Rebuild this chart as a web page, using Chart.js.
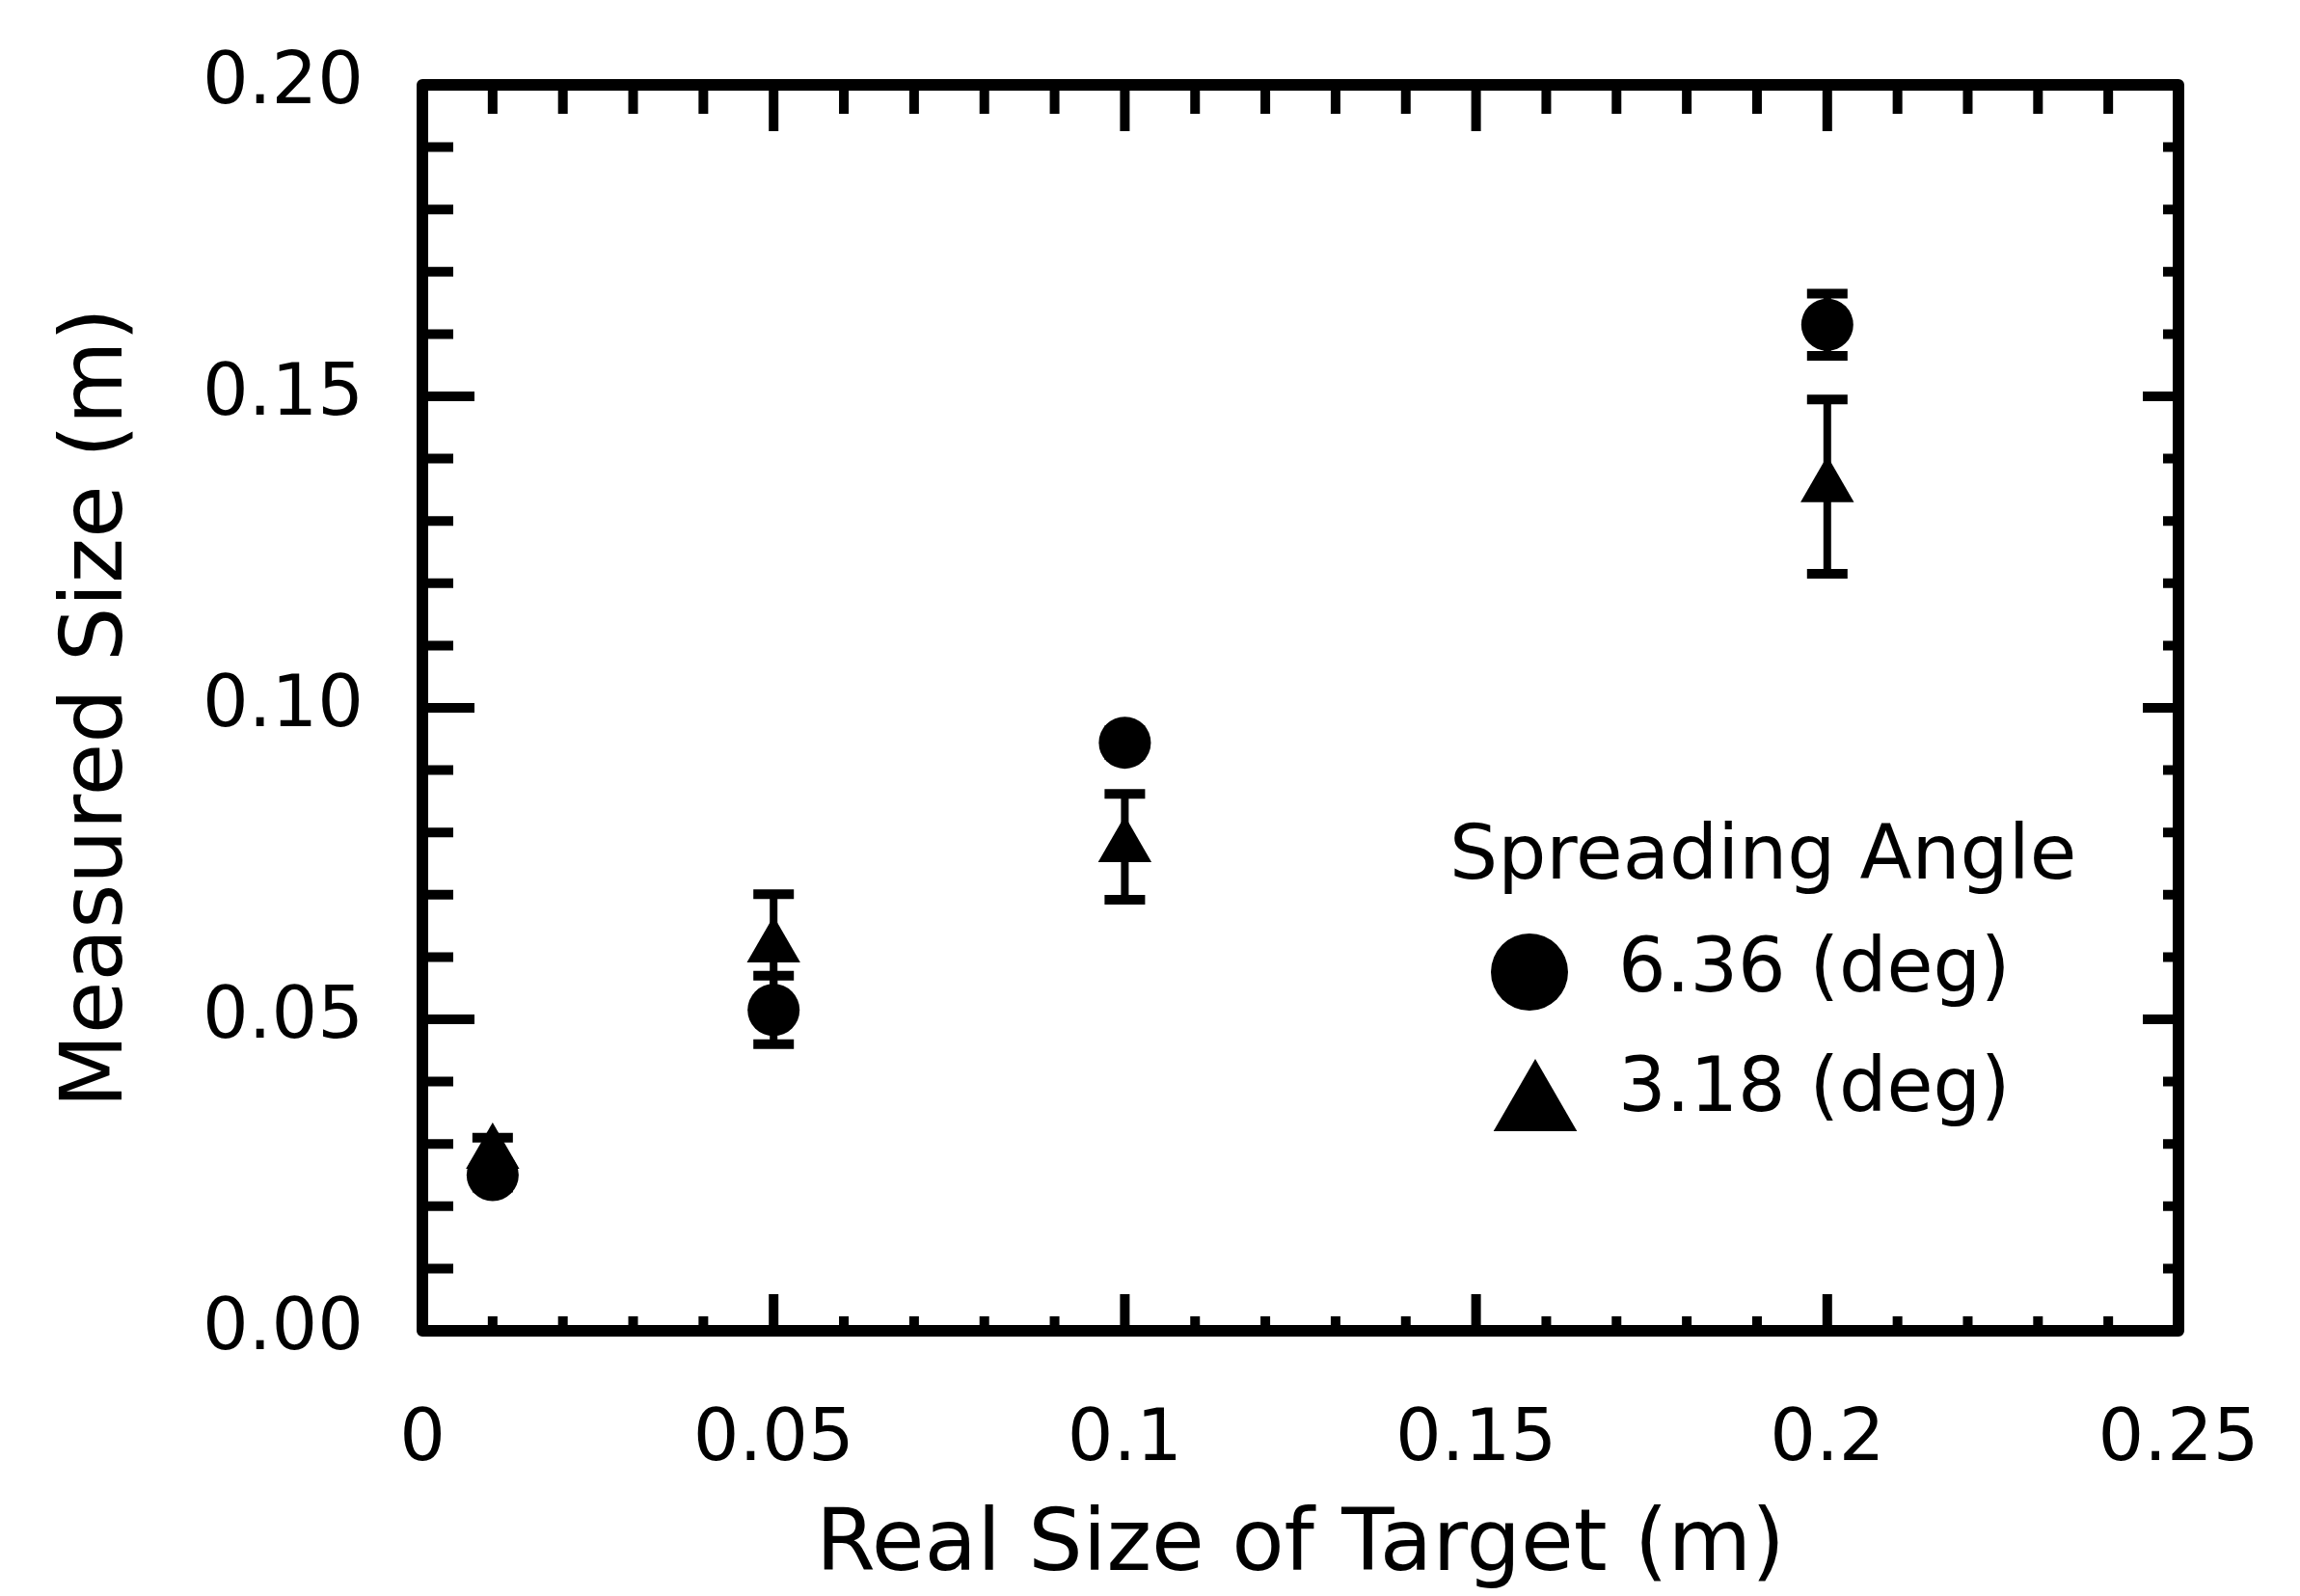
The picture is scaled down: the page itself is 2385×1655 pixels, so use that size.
<!DOCTYPE html>
<html><head><meta charset="utf-8">
<script src="https://cdn.jsdelivr.net/npm/chart.js@4.4.1/dist/chart.umd.min.js"></script>
<style>html,body{margin:0;padding:0;background:#fff;} canvas{display:block;}</style>
</head><body>
<canvas id="c" width="2385" height="1655"></canvas>
<script>
// ---- data ----
const targetSizes = [0.01, 0.05, 0.1, 0.2];
const measured636 = [0.025, 0.0515, 0.0944, 0.1615];
const err636 = [0.002, 0.0055, 0.002, 0.005];
const measured318 = [0.0285, 0.0616, 0.0777, 0.1355];
const err318 = [0.0025, 0.0085, 0.0085, 0.014];
const seriesLabels = ['6.36 (deg)', '3.18 (deg)'];
const legendTitle = 'Spreading Angle';
const xTickValues = [0, 0.05, 0.1, 0.15, 0.2, 0.25];
const xTickLabels = ['0', '0.05', '0.1', '0.15', '0.2', '0.25'];
const yTickValues = [0, 0.05, 0.1, 0.15, 0.2];
const yTickLabels = ['0.00', '0.05', '0.10', '0.15', '0.20'];
const xTitle = 'Real Size of Target (m)';
const yTitle = 'Measured Size (m)';
const minorStep = 0.01;

const FONT = '"DejaVu Sans", sans-serif';

const errorBars = {
  id: 'errorBars',
  beforeDatasetsDraw(chart) {
    const ctx = chart.ctx, xs = chart.scales.x, ys = chart.scales.y;
    ctx.save();
    ctx.strokeStyle = '#000';
    chart.data.datasets.forEach(ds => {
      ds.data.forEach((p, i) => {
        const e = ds.errors[i];
        if (!e) return;
        const px = xs.getPixelForValue(p.x);
        const y1 = ys.getPixelForValue(p.y + e), y2 = ys.getPixelForValue(p.y - e);
        ctx.lineWidth = 8;
        ctx.beginPath(); ctx.moveTo(px, y1); ctx.lineTo(px, y2); ctx.stroke();
        ctx.lineWidth = 10;
        ctx.beginPath();
        ctx.moveTo(px - 21, y1); ctx.lineTo(px + 21, y1);
        ctx.moveTo(px - 21, y2); ctx.lineTo(px + 21, y2);
        ctx.stroke();
      });
    });
    ctx.restore();
  }
};

const frameTicks = {
  id: 'frameTicks',
  afterDraw(chart) {
    const ctx = chart.ctx, ca = chart.chartArea, xs = chart.scales.x, ys = chart.scales.y;
    ctx.save();
    ctx.strokeStyle = '#000';
    ctx.lineWidth = 10;
    ctx.beginPath();
    const nx = Math.round((xs.max - xs.min) / minorStep);
    for (let k = 1; k < nx; k++) {
      const px = xs.getPixelForValue(xs.min + k * minorStep);
      const major = k % 5 === 0;
      ctx.moveTo(px, ca.top); ctx.lineTo(px, ca.top + (major ? 48 : 30));
      ctx.moveTo(px, ca.bottom); ctx.lineTo(px, ca.bottom - (major ? 38 : 15));
    }
    const ny = Math.round((ys.max - ys.min) / minorStep);
    for (let k = 1; k < ny; k++) {
      const py = ys.getPixelForValue(ys.min + k * minorStep);
      const major = k % 5 === 0;
      ctx.moveTo(ca.left, py); ctx.lineTo(ca.left + (major ? 54 : 32), py);
      ctx.moveTo(ca.right, py); ctx.lineTo(ca.right - (major ? 37 : 16), py);
    }
    ctx.stroke();
    ctx.lineWidth = 12;
    ctx.lineJoin = 'round';
    ctx.strokeRect(ca.left, ca.top, ca.right - ca.left, ca.bottom - ca.top);
    ctx.restore();
  }
};

const insetLegend = {
  id: 'insetLegend',
  afterDraw(chart) {
    const ctx = chart.ctx;
    ctx.save();
    ctx.fillStyle = '#000';
    ctx.font = '79px ' + FONT;
    ctx.textAlign = 'left';
    ctx.textBaseline = 'middle';
    ctx.fillText(legendTitle, 1503, 890);
    ctx.font = '78px ' + FONT;
    const rows = [
      {y: 1008, mx: 1586, my: 1008, r: 40},
      {y: 1132, mx: 1592, my: 1148, r: 50}
    ];
    chart.data.datasets.forEach((ds, i) => {
      const row = rows[i];
      Chart.helpers.drawPoint(ctx, {pointStyle: ds.pointStyle, radius: row.r, borderWidth: 0, rotation: 0}, row.mx, row.my);
      ctx.fillText(ds.label, 1678, row.y);
    });
    ctx.restore();
  }
};

const noOverhang = s => { s.paddingLeft = 0; s.paddingRight = 0; s.paddingTop = 0; s.paddingBottom = 0; };

new Chart(document.getElementById('c'), {
  type: 'scatter',
  data: {
    datasets: [
      {
        label: seriesLabels[0],
        data: targetSizes.map((x, i) => ({x, y: measured636[i]})),
        errors: err636,
        pointStyle: 'circle', pointRadius: 27, pointHoverRadius: 27,
        backgroundColor: '#000', borderColor: '#000', borderWidth: 0
      },
      {
        label: seriesLabels[1],
        data: targetSizes.map((x, i) => ({x, y: measured318[i]})),
        errors: err318,
        pointStyle: 'triangle', pointRadius: 32, pointHoverRadius: 32,
        backgroundColor: '#000', borderColor: '#000', borderWidth: 0
      }
    ]
  },
  options: {
    responsive: false,
    animation: false,
    events: [],
    layout: {padding: {left: 0, top: 88, right: 126, bottom: 0}},
    plugins: {legend: {display: false}, tooltip: {enabled: false}},
    scales: {
      x: {
        type: 'linear', min: 0, max: 0.25,
        afterBuildTicks: s => { s.ticks = xTickValues.map(v => ({value: v})); },
        afterFit: s => { s.height = 275; noOverhang(s); },
        grid: {display: false, drawTicks: false},
        border: {display: false},
        ticks: {
          color: '#000', padding: 70, maxRotation: 0, autoSkip: false,
          font: {family: FONT, size: 75},
          callback: (v, i) => xTickLabels[i]
        },
        title: {display: true, text: xTitle, color: '#000',
          font: {family: FONT, size: 89, lineHeight: 1}, padding: {top: 0, bottom: 6}}
      },
      y: {
        type: 'linear', min: 0, max: 0.2,
        afterBuildTicks: s => { s.ticks = yTickValues.map(v => ({value: v})); },
        afterFit: s => { s.width = 438; noOverhang(s); },
        grid: {display: false, drawTicks: false},
        border: {display: false},
        ticks: {
          color: '#000', padding: 61, autoSkip: false,
          font: {family: FONT, size: 75},
          callback: (v, i) => yTickLabels[i]
        },
        title: {display: true, text: yTitle, color: '#000',
          font: {family: FONT, size: 89, lineHeight: 1}, padding: {top: 58, bottom: 0}}
      }
    }
  },
  plugins: [errorBars, frameTicks, insetLegend]
});
</script>
</body></html>
